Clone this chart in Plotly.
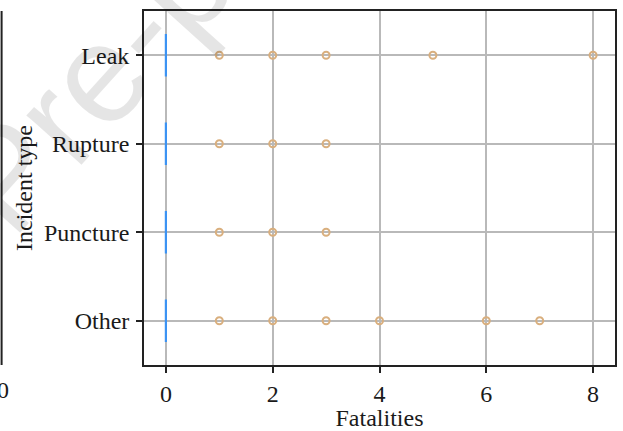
import plotly.graph_objects as go

# Incident categories (top to bottom)
categories = ["Leak", "Rupture", "Puncture", "Other"]

# Box statistics per category (all collapsed at zero fatalities)
q1_vals = [0, 0, 0, 0]
median_vals = [0, 0, 0, 0]
q3_vals = [0, 0, 0, 0]
lower_fence = [0, 0, 0, 0]
upper_fence = [0, 0, 0, 0]

# Outlier fatality counts per category
leak_outliers = [1, 2, 3, 5, 8]
rupture_outliers = [1, 2, 3]
puncture_outliers = [1, 2, 3]
other_outliers = [1, 2, 3, 4, 6, 7]

x_ticks = [0, 2, 4, 6, 8]

FONT = "Liberation Serif"
BOX_BLUE = "#3b93f3"
TAN = "#d9af7e"

outlier_groups = [leak_outliers, rupture_outliers, puncture_outliers, other_outliers]
out_x, out_y = [], []
for cat, vals in zip(categories, outlier_groups):
    out_x.extend(vals)
    out_y.extend([cat] * len(vals))

fig = go.Figure()

fig.add_trace(go.Box(
    y=categories,
    q1=q1_vals, median=median_vals, q3=q3_vals,
    lowerfence=lower_fence, upperfence=upper_fence,
    orientation="h",
    width=0.48,
    line=dict(color=BOX_BLUE, width=2.2),
    fillcolor="rgba(0,0,0,0)",
    boxpoints=False,
    showlegend=False,
    hoverinfo="skip",
))

fig.add_trace(go.Scatter(
    x=out_x, y=out_y,
    mode="markers",
    marker=dict(symbol="circle-open", size=7, color=TAN, line=dict(width=2, color=TAN)),
    showlegend=False,
    hoverinfo="skip",
))

W, H = 623, 431
L, R, T, B = 144, 6, 11, 65
plot_w = W - L - R
plot_h = H - T - B


def px_x(p):
    return (p - L) / plot_w


def px_y(p):
    return (H - B - p) / plot_h


fig.update_layout(
    width=W, height=H,
    margin=dict(l=L, r=R, t=T, b=B, pad=0),
    paper_bgcolor="white",
    plot_bgcolor="white",
    font=dict(family=FONT, size=24, color="#1a1a1a"),
    xaxis=dict(
        range=[-0.41, 8.41],
        tickvals=x_ticks,
        ticktext=[str(v) for v in x_ticks],
        showgrid=True, gridcolor="#b9b9b9", gridwidth=1.6,
        zeroline=False,
        showline=True, linecolor="#222222", linewidth=1.8, mirror=True,
        ticks="outside", ticklen=6, tickwidth=1.6, tickcolor="#222222",
        title=dict(text="Fatalities", standoff=1, font=dict(size=24)),
        tickfont=dict(size=24),
    ),
    yaxis=dict(
        categoryorder="array", categoryarray=categories,
        range=[3.5, -0.5],
        showgrid=True, gridcolor="#b9b9b9", gridwidth=1.6,
        zeroline=False,
        showline=True, linecolor="#222222", linewidth=1.8, mirror=True,
        ticks="outside", ticklen=6, tickwidth=1.6, tickcolor="#222222",
        ticklabelstandoff=2,
        title=dict(text="Incident type", standoff=5, font=dict(size=24)),
        tickfont=dict(size=24),
    ),
)

# Right spine and tick label of the neighbouring panel at the page edge
fig.add_shape(type="line", xref="paper", yref="paper",
              x0=px_x(1), x1=px_x(1), y0=0, y1=1,
              line=dict(color="#222222", width=2))
fig.add_annotation(text="0", xref="paper", yref="paper",
                   x=px_x(2), y=px_y(391), xanchor="center", yanchor="middle",
                   showarrow=False, font=dict(size=24, color="#1a1a1a"))

# Diagonal watermark
fig.add_annotation(text="Journal Pre-proof", xref="paper", yref="paper",
                   x=px_x(5), y=px_y(177), xanchor="center", yanchor="middle",
                   textangle=-48, showarrow=False,
                   font=dict(family="Liberation Sans", size=140, color="rgba(0,0,0,0.10)"))

fig.write_html("out.html")
